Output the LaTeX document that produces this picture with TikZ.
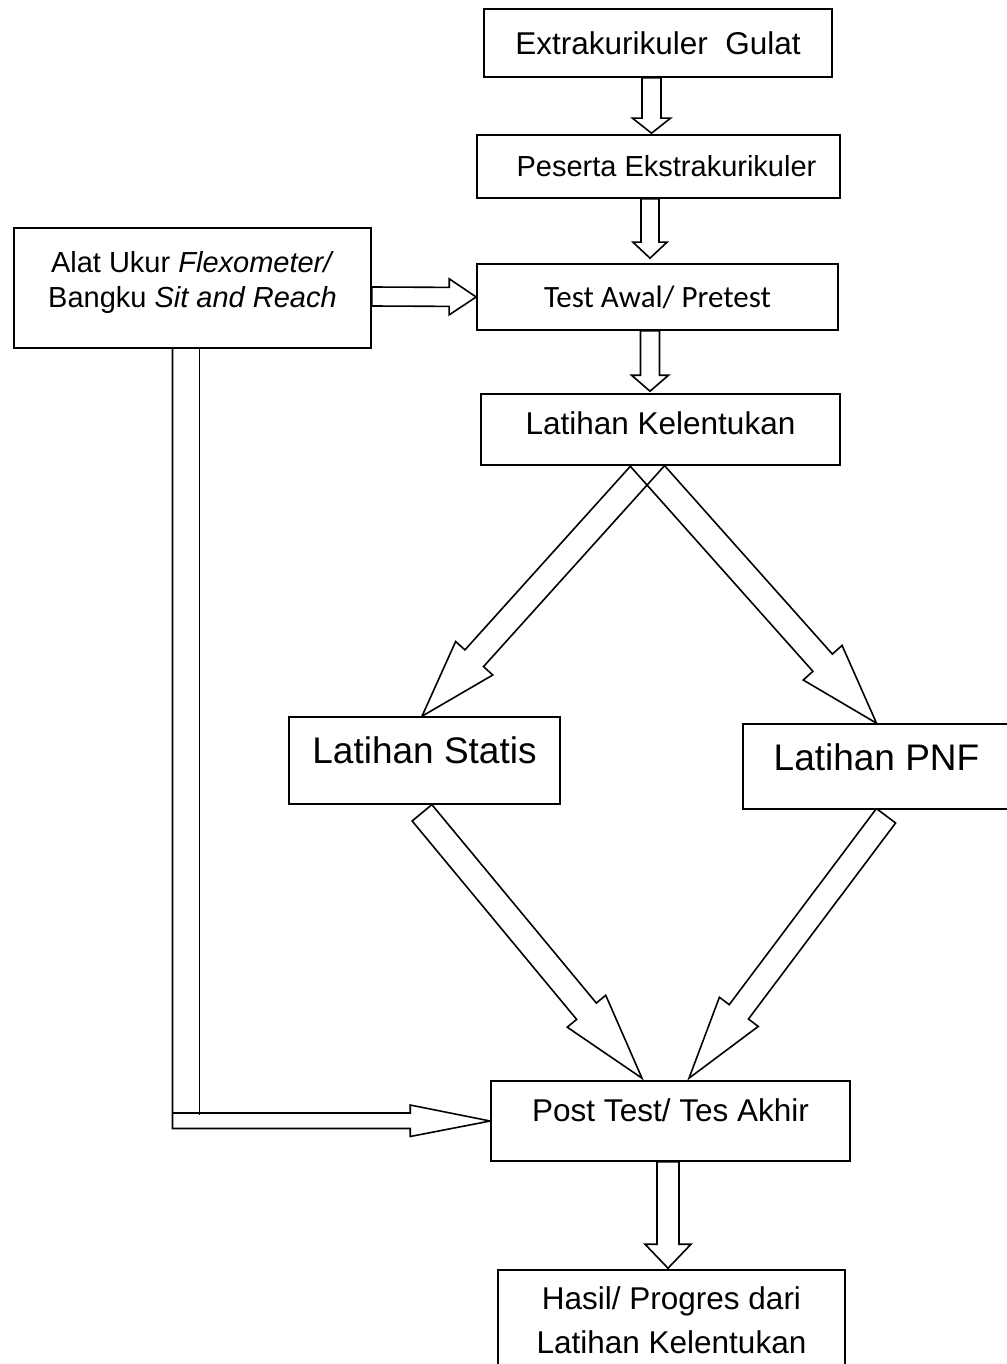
\documentclass[tikz,border=0pt]{standalone}
\usepackage{fontspec}
\setmainfont{Liberation Sans}
\newfontfamily\calibri{Carlito}
\usetikzlibrary{calc}
\pgfdeclarelayer{background}
\pgfsetlayers{background,main}

\newcommand{\fatarrow}[5]{%
  \coordinate (fa-s) at (#1);
  \coordinate (fa-t) at (#2);
  \coordinate (fa-h) at ($(fa-t)!#5!(fa-s)$);
  \draw[blockarrow] ($(fa-s)!#3!90:(fa-t)$) -- ($(fa-h)!#3!90:(fa-t)$) -- ($(fa-h)!#4!90:(fa-t)$) -- (fa-t)
    -- ($(fa-h)!#4!-90:(fa-t)$) -- ($(fa-h)!#3!-90:(fa-t)$) -- ($(fa-s)!#3!-90:(fa-t)$) -- cycle;}

\begin{document}
\begin{tikzpicture}[x=1pt, y=-1pt, box/.style={draw, line width=1.6pt, fill=white, inner sep=0pt, align=center},%
        blockarrow/.style={line width=1.6pt, line join=miter}, big/.style={font=\fontsize{31.5}{38}\selectfont}]
    \useasboundingbox (0,0) rectangle (1006,1364);
    \node[box, big, minimum width=348pt, minimum height=68pt] (ekskul) at (658,43) {Extrakurikuler\ \ Gulat};
    \node[box, minimum width=363pt, minimum height=63pt, font=\fontsize{29}{35}\selectfont] (peserta) at (658.5,166.5) {\hspace*{16pt}Peserta Ekstrakurikuler};
    \node[box, minimum width=361pt, minimum height=66pt, font=\calibri\fontsize{31}{37}\selectfont] (pretest) at (657.5,297) {Test Awal/ Pretest};
    \node[box, big, minimum width=359pt, minimum height=71pt, text depth=13pt] (kelentukan) at (660.5,429.5) {Latihan Kelentukan};
    \node[box, minimum width=357pt, minimum height=120pt, text depth=17pt, font=\fontsize{29}{35}\selectfont] (alat) at (192.5,288) {Alat Ukur \textit{Flexometer/}\\Bangku \textit{Sit and Reach}};
    \node[box, minimum width=271pt, minimum height=87pt, text depth=20pt, font=\fontsize{37}{44}\selectfont] (statis) at (424.5,760.5) {Latihan Statis};
    \node[box, minimum width=267pt, minimum height=85pt, text depth=19pt, font=\fontsize{37}{44}\selectfont] (pnf) at (876.5,766.5) {Latihan PNF};
    \node[box, big, minimum width=359pt, minimum height=80pt, text depth=22pt] (post) at (670.5,1121) {Post Test/ Tes Akhir};
    \node[box, minimum width=347pt, minimum height=100pt, font=\fontsize{31.5}{44}\selectfont] (hasil) at (671.5,1320) {Hasil/ Progres dari\\Latihan Kelentukan};
    \begin{pgfonlayer}{background}
        \fatarrow{$(ekskul.south)+(-6.5,0)$}{$(peserta.north)+(-7,-1)$}{9.5pt}{19pt}{15pt}
        \fatarrow{$(peserta.south)+(-8.5,0)$}{$(pretest.north)+(-7.5,-5)$}{9pt}{17pt}{16pt}
        \fatarrow{$(pretest.south)+(-7.5,0)$}{$(kelentukan.north)+(-10.5,-2)$}{9.5pt}{18.5pt}{16pt}
        \fatarrow{$(alat.east)+(0,8.5)$}{pretest.west}{9.5pt}{18pt}{27pt}
        \fatarrow{$(kelentukan.south)+(-3,-11)$}{$(statis.north)+(-2.5,0)$}{12.5pt}{25pt}{78pt}
        \fatarrow{$(kelentukan.south)+(-23,-11)$}{pnf.north}{13pt}{26pt}{81pt}
        \fatarrow{$(statis.south)+(-2.5,8)$}{$(post.north)+(-28.5,-2)$}{12.8pt}{25pt}{87pt}
        \fatarrow{$(pnf.south)+(9.5,6)$}{$(post.north)+(18.5,-2)$}{12pt}{24.3pt}{83pt}
        \fatarrow{$(post.south)+(-2.5,0)$}{$(hasil.north)+(-3.5,-1)$}{11pt}{23pt}{24pt}
        \coordinate (pw) at (post.west);
        \coordinate (pt) at ($(pw)+(0,-8)$);
        \draw[blockarrow] ($(alat.south)+(-20,0)$) coordinate (l1) |- ($(pw)+(-80,7.5)$) -- ++(0,8) -- (pw)
            -- ($(pw)+(-80,-16)$) -- ++(0,8) -- (l1 |- pt);
        \draw[blockarrow] ($(alat.south)+(7,0)$) -- ++(0,766);
    \end{pgfonlayer}
\end{tikzpicture}
\end{document}
